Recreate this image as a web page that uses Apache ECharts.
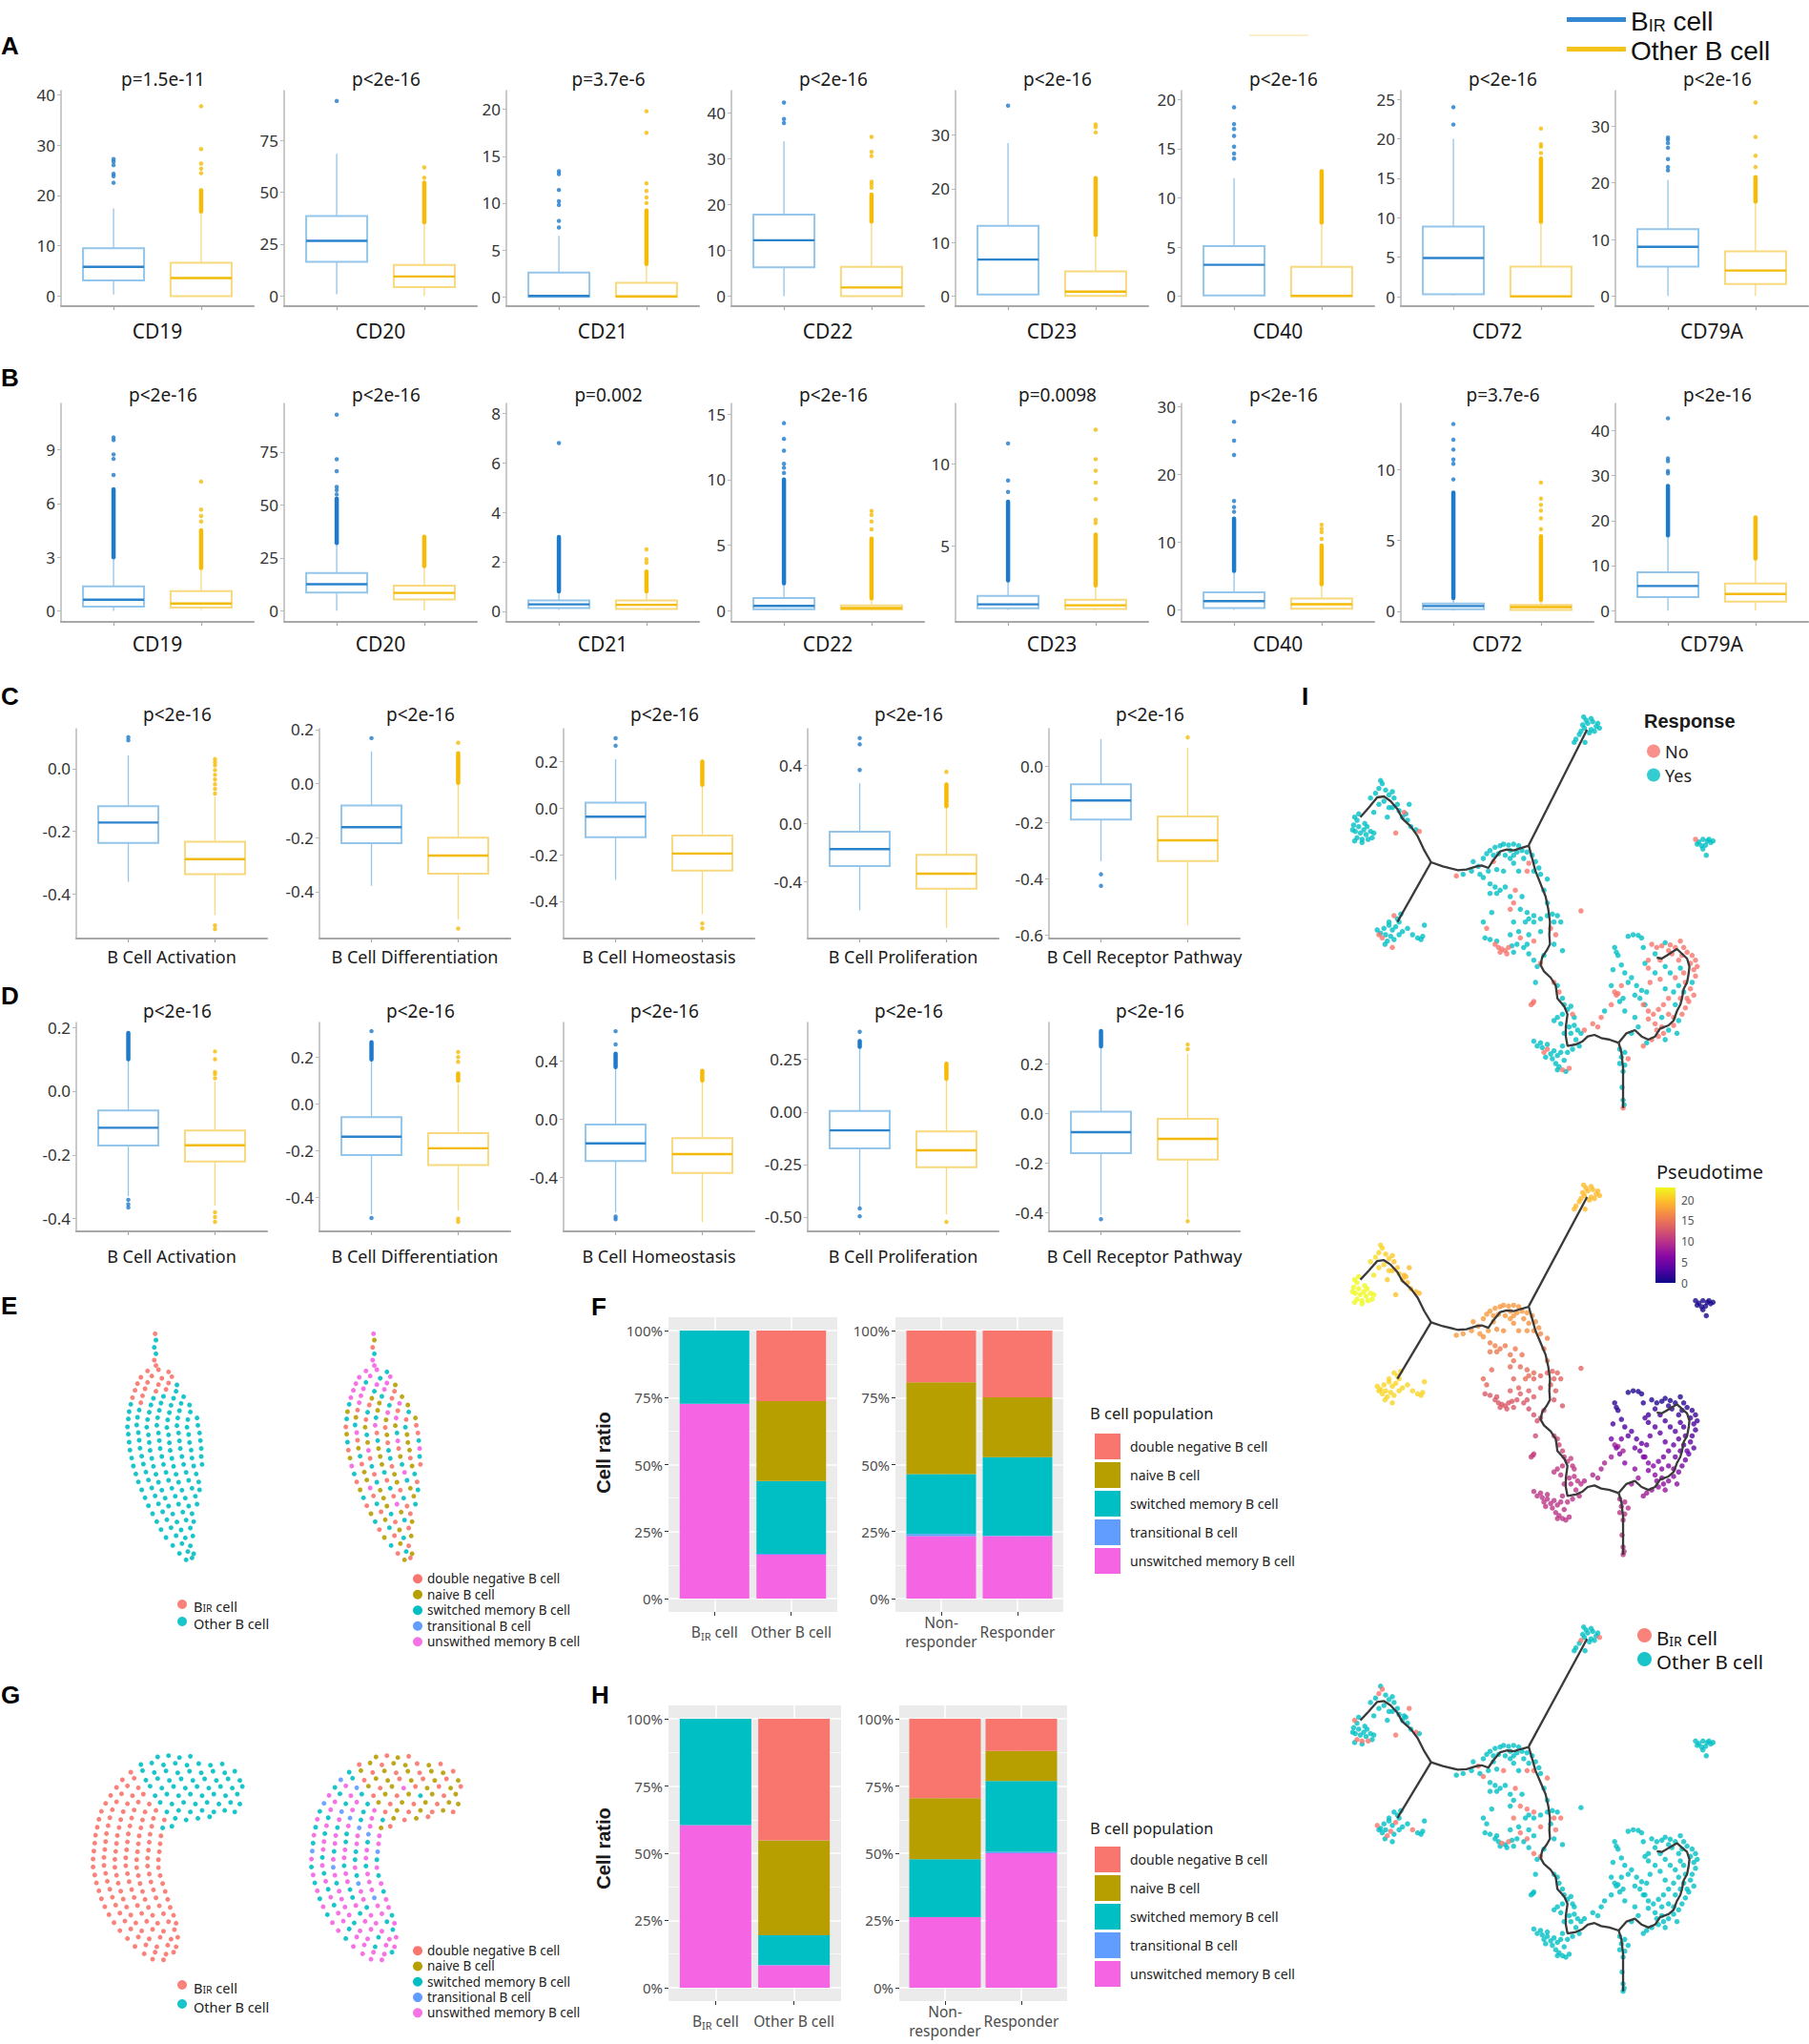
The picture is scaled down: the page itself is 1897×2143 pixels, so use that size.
<!DOCTYPE html>
<html><head><meta charset="utf-8">
<script src="https://cdn.jsdelivr.net/npm/echarts@6/dist/echarts.min.js"></script>
<style>html,body{margin:0;padding:0;background:#fff}#c{width:1897px;height:2143px}</style>
</head><body><div id="c"></div><script>
// ---------------- DATA ----------------
const GROUPS = ['BIR cell','Other B cell'];
const POP_E = ['double negative B cell','naive B cell','switched memory B cell','transitional B cell','unswithed memory B cell'];
const POP_F = ['double negative B cell','naive B cell','switched memory B cell','transitional B cell','unswitched memory B cell'];

// Panel A
const A_GENES = ['CD19','CD20','CD21','CD22','CD23','CD40','CD72','CD79A'];
const A_P = ['p=1.5e-11','p<2e-16','p=3.7e-6','p<2e-16','p<2e-16','p<2e-16','p<2e-16','p<2e-16'];
const A_LIM = [[-2,40.8],[-4.9,99],[-1,22],[-2.2,44.9],[-1.9,38.3],[-1,20.9],[-1.2,26.1],[-1.8,36.3]];
const A_TICKS = [[0,10,20,30,40],[0,25,50,75],[0,5,10,15,20],[0,10,20,30,40],[0,10,20,30],[0,5,10,15,20],[0,5,10,15,20,25],[0,10,20,30]];
const A_BIR = [[0.3,3.1,5.8,9.5,17.4],[0.8,16.5,26.6,38.5,68.5],[0,0,0.1,2.6,6.5],[0,6.3,12.2,17.8,33.8],[0.3,0.3,6.8,13.1,28.5],[0.1,0.1,3.2,5.1,12],[0.2,0.3,4.9,8.9,20],[0,5.2,8.7,11.8,20.5]];
const A_OTH = [[0,0,3.6,6.6,16.3],[0,4.3,9.4,15,35],[0,0,0.05,1.5,3.4],[0,0,1.9,6.4,16],[0,0,0.8,4.6,11.2],[0,0,0.05,3,7.4],[0,0,0.05,3.8,9.3],[0,2.1,4.5,7.9,16.5]];
const A_BIR_OUT = [[22.5,23.8,24.3,26,26.7,27.2],[94],[7.4,8.1,9.8,10.2,11.4,13.1,13.4],[37.8,38.7,42.3],[35.5],[14,14.5,15.2,16.3,17,17.5,19.2],[21.8,24],[22.2,22.8,24.2,26.2,27,27.6,28]];
const A_OTH_OUT = [[24.4,25.3,26.3,29.2,37.7],[57,62],[10,10.6,11.3,12.1,17.5,19.8],[23.7,24.4,25,30.6,31.5,34.8],[30.5,31.5,32],[],[18.2,19,19.3,21.3],[22.8,24.8,28.1,34.2]];
const A_BIR_RUN = [[],[],[],[],[],[],[],[]];
const A_OTH_RUN = [[[16.8,21]],[[35.5,54.6]],[[3.5,9.2]],[[16.3,22.2]],[[11.4,22]],[[7.5,12.7]],[[9.5,17.5]],[[16.7,21]]];

// Panel B
const B_P = ['p<2e-16','p<2e-16','p=0.002','p<2e-16','p=0.0098','p<2e-16','p=3.7e-6','p<2e-16'];
const B_LIM = [[-0.62,11.6],[-5.3,98],[-0.43,8.4],[-0.85,15.8],[0.37,13.7],[-1.75,30.5],[-0.74,14.65],[-2.5,46]];
const B_TICKS = [[0,3,6,9],[0,25,50,75],[0,2,4,6,8],[0,5,10,15],[5,10],[0,10,20,30],[0,5,10],[0,10,20,30,40]];
const B_BIR = [[0,0.23,0.62,1.37,3],[0,8.6,12.5,17.8,32],[0.05,0.13,0.28,0.44,0.77],[0.02,0.12,0.37,0.97,2.07],[1.1,1.2,1.44,1.96,2.9],[0,0.28,1.32,2.6,5.8],[0.05,0.15,0.38,0.56,0.94],[0,3,5.46,8.5,16.7]];
const B_OTH = [[0.05,0.18,0.41,1.1,2.36],[0,5.3,8.4,11.8,21.1],[0.02,0.09,0.26,0.44,0.8],[0.02,0.1,0.2,0.41,0.95],[1.05,1.15,1.38,1.73,2.6],[0,0.2,0.85,1.7,3.8],[0.03,0.1,0.3,0.45,0.8],[0,2,3.7,6,11.6]];
const B_BIR_OUT = [[7.6,8.5,8.75,9.55,9.7],[55,57,58.5,66,71.6,92.7],[6.8],[10.5,10.9,11.2,12.2,13.1,14.3],[8.3,9.0,11.26],[14.5,15.2,16.1,22.9,25,27.8],[9.3,10.4,10.7,11.4,12.1,13.2],[30.5,31,33.2,33.8,42.7]];
const B_OTH_OUT = [[5.0,5.3,5.66,7.23],[],[1.96,2.1,2.5],[6.2,6.8,7.3,7.6],[6.4,6.6,7.86,8.87,9.6,10.3,12.1],[10.5,11.5,12,12.6],[5.8,6.56,7.1,7.5,7.95,9.08],[]];
const B_BIR_RUN = [[[3,6.8]],[[32,53]],[[0.8,3.0]],[[2.1,10]],[[2.9,7.7]],[[5.8,13.5]],[[0.94,8.36]],[[16.7,27.7]]];
const B_OTH_RUN = [[[2.4,4.5]],[[21.1,35]],[[0.8,1.6]],[[0.95,5.5]],[[2.6,5.7]],[[3.8,9.5]],[[0.8,5.3]],[[11.6,20.7]]];

// Panel C
const C_TERMS = ['B Cell Activation','B Cell Differentiation','B Cell Homeostasis','B Cell Proliferation','B Cell Receptor Pathway'];
const C_P = ['p<2e-16','p<2e-16','p<2e-16','p<2e-16','p<2e-16'];
const C_LIM = [[-0.542,0.127],[-0.573,0.203],[-0.56,0.341],[-0.794,0.655],[-0.613,0.135]];
const C_TICKS = [[-0.4,-0.2,0],[-0.4,-0.2,0,0.2],[-0.4,-0.2,0,0.2],[-0.4,0,0.4],[-0.6,-0.4,-0.2,0]];
const C_BIR = [[-0.361,-0.237,-0.172,-0.12,0.042],[-0.378,-0.22,-0.161,-0.081,0.119],[-0.308,-0.125,-0.037,0.024,0.21],[-0.599,-0.294,-0.177,-0.057,0.279],[-0.337,-0.189,-0.121,-0.063,0.098]];
const C_OTH = [[-0.467,-0.337,-0.289,-0.233,-0.09],[-0.503,-0.333,-0.266,-0.2,0.0],[-0.455,-0.268,-0.195,-0.118,0.097],[-0.721,-0.45,-0.346,-0.216,0.117],[-0.566,-0.337,-0.263,-0.178,0.067]];
const C_BIR_OUT = [[0.09,0.1],[0.168],[0.268,0.3],[0.37,0.547,0.59],[-0.384,-0.425]];
const C_OTH_OUT = [[-0.08,-0.065,-0.05,-0.035,-0.02,-0.005,0.01,0.02,0.03,-0.5,-0.512],[0.151,-0.536],[-0.495,-0.516],[0.357],[0.104]];
const C_BIR_RUN = [[],[],[],[],[]];
const C_OTH_RUN = [[],[[0.003,0.112]],[[0.1,0.2]],[[0.12,0.27]],[]];

// Panel D
const D_P = ['p<2e-16','p<2e-16','p<2e-16','p<2e-16','p<2e-16'];
const D_LIM = [[-0.44,0.215],[-0.544,0.348],[-0.77,0.665],[-0.569,0.426],[-0.476,0.368]];
const D_TICKS = [[-0.4,-0.2,0,0.2],[-0.4,-0.2,0,0.2],[-0.4,0,0.4],[-0.5,-0.25,0,0.25],[-0.4,-0.2,0,0.2]];
const D_BIR = [[-0.33,-0.171,-0.115,-0.061,0.1],[-0.471,-0.218,-0.14,-0.056,0.19],[-0.64,-0.286,-0.166,-0.036,0.358],[-0.452,-0.174,-0.088,0.005,0.31],[-0.408,-0.16,-0.075,0.008,0.272]];
const D_OTH = [[-0.359,-0.221,-0.17,-0.124,0.03],[-0.455,-0.261,-0.189,-0.124,0.085],[-0.706,-0.369,-0.239,-0.13,0.267],[-0.488,-0.264,-0.183,-0.093,0.158],[-0.423,-0.186,-0.102,-0.021,0.241]];
const D_BIR_OUT = [[-0.341,-0.355,-0.365],[0.311,-0.487],[0.514,0.605,-0.668,-0.686],[0.382,-0.46,-0.497],[-0.427]];
const D_OTH_OUT = [[0.04,0.053,0.06,0.1,0.124,-0.38,-0.395,-0.41],[0.18,0.2,0.222,-0.49,-0.503],[],[-0.524],[0.26,0.279,-0.435]];
const D_BIR_RUN = [[[0.1,0.182]],[[0.19,0.263]],[[0.358,0.45]],[[0.31,0.337]],[[0.272,0.333]]];
const D_OTH_RUN = [[],[[0.1,0.13]],[[0.267,0.332]],[[0.158,0.23]],[]];

// Panels F / H : percentages per population [DN, naive, switched, transitional, unswitched]
const F_CATS1 = ['BIR cell','Other B cell'];
const F_CATS2 = ['Non-\nresponder','Responder'];
const F_BIR = [0,0,27.3,0,72.7];
const F_OTHER = [26.3,29.8,27.2,0.3,16.4];
const F_NONRESP = [19.3,34.3,22.3,0.8,23.3];
const F_RESP = [24.9,22.3,29.3,0.2,23.3];
const H_BIR = [0,0,39.5,0,60.5];
const H_OTHER = [45.2,35.3,11.0,0.2,8.3];
const H_NONRESP = [29.5,22.7,21.6,0.0,26.2];
const H_RESP = [11.9,11.2,26.4,0.5,50.0];
const PCT_TICKS = [0,25,50,75,100];

// Panel E cells: [umap1, umap2, group(0=BIR,1=Other), population]
const E_CELLS = [
[185,185,0,4],[186,205,1,1],[184,228,1,0],[186,248,1,2],[184,268,0,4],[186,285,0,4],
[176,302,0,4],[189,298,0,4],[201,305,0,2],
[168,322,0,4],[181,318,0,4],[193,325,0,2],[205,320,0,4],
[164,342,0,4],[176,338,0,2],[189,345,0,4],[201,340,0,4],[211,346,1,1],
[161,363,0,4],[173,358,0,4],[186,366,0,2],[198,360,0,4],[210,366,1,0],
[158,386,0,4],[170,380,0,4],[183,388,1,1],[195,382,1,2],[207,388,1,0],[219,383,1,1],
[156,407,1,2],[168,402,0,4],[180,409,1,0],[192,403,1,1],[204,410,1,2],[216,404,1,4],[226,409,1,1],
[154,430,1,1],[166,425,1,0],[178,432,1,2],[190,426,1,1],[202,433,1,4],[214,427,1,0],[227,431,1,2],
[153,453,1,2],[164,448,1,1],[176,455,1,0],[188,449,1,2],[200,456,1,1],[212,450,1,4],[224,455,1,0],[235,450,1,1],
[152,478,1,0],[163,472,1,2],[175,479,1,1],[187,473,1,4],[199,480,1,0],[211,474,1,1],[223,479,1,2],[236,473,1,0],
[153,501,1,1],[165,496,1,4],[177,503,1,2],[189,497,1,0],[201,503,1,1],[213,497,1,2],[225,502,1,1],[238,497,1,0],
[154,526,1,2],[166,520,1,0],[178,527,1,1],[190,521,1,2],[202,528,1,0],[214,522,1,4],[226,527,1,1],[239,521,1,2],
[155,551,1,0],[167,545,1,1],[179,552,1,4],[191,546,1,1],[203,552,1,2],[215,546,1,0],[228,551,1,1],[240,546,1,4],
[157,576,1,1],[169,570,1,2],[181,577,1,0],[193,571,1,1],[205,577,1,2],[217,571,1,1],[229,576,1,0],[240,571,1,2],
[159,601,1,4],[171,595,1,0],[183,602,1,2],[195,596,1,1],[207,602,1,0],[219,596,1,2],[231,601,1,1],[241,596,1,0],
[162,626,1,2],[174,620,1,1],[186,627,1,0],[198,621,1,2],[210,627,1,1],[222,621,1,4],[234,626,1,2],
[165,651,1,0],[177,645,1,1],[189,652,1,2],[201,646,1,0],[213,652,1,1],[225,646,1,2],[237,651,1,0],
[169,676,1,1],[181,670,1,4],[193,677,1,1],[205,671,1,2],[217,677,1,0],[229,671,1,1],[238,676,1,2],
[173,701,1,2],[185,695,1,0],[197,702,1,1],[209,696,1,0],[221,702,1,2],[233,696,1,1],
[177,726,1,0],[189,720,1,2],[201,727,1,1],[213,721,1,4],[225,727,1,0],[235,721,1,2],
[182,751,1,1],[194,745,1,0],[206,752,1,2],[218,746,1,1],[229,751,1,0],
[187,776,1,2],[199,770,1,1],[211,777,1,0],[222,771,1,2],[231,776,1,1],
[192,801,1,0],[204,795,1,2],[216,802,1,1],[227,796,1,0],
[198,826,1,1],[210,820,1,0],[221,827,1,2],[230,821,1,1],
[206,851,1,2],[217,845,1,1],[227,852,1,0],
[214,876,1,0],[224,870,1,2],[231,877,1,1],
[222,896,1,1],[229,890,1,0]
];

// Panel G cells: [umap1, umap2, group, population]
const G_CELLS = [
[188,282,1,1],[201,278,1,0],[214,284,1,1],[227,280,1,0],
[168,306,1,0],[181,301,1,1],[195,307,1,0],[209,302,1,1],[223,308,1,1],[237,303,1,0],[251,308,1,1],[265,304,1,0],
[156,330,0,2],[170,325,1,1],[184,331,1,0],[198,326,1,1],[212,332,1,0],[226,327,1,1],[240,332,1,0],[254,327,1,1],[268,332,1,1],[280,327,1,0],
[146,354,0,3],[160,349,0,2],[174,355,1,0],[188,350,1,1],[202,356,1,1],[216,351,1,0],[230,356,1,1],[244,351,1,0],[258,356,1,1],[272,351,1,0],[286,356,1,1],
[139,378,0,2],[152,373,0,4],[165,379,0,3],[179,374,1,1],[193,380,1,0],[207,375,1,1],[221,380,1,4],[235,375,1,0],[249,380,1,1],[263,375,1,0],[277,380,1,1],[289,375,1,0],
[132,403,0,4],[145,398,0,2],[158,404,0,4],[171,399,0,2],[185,404,1,0],[199,399,1,1],[213,404,1,0],[227,399,1,1],[241,404,1,2],[255,399,1,1],[269,404,1,0],[283,399,1,1],
[126,428,0,3],[139,423,0,4],[152,429,0,2],[165,424,0,4],[178,430,0,2],[191,425,1,1],[205,430,1,0],[219,425,1,1],[233,430,1,0],[247,425,1,1],[261,430,1,0],[275,425,1,1],[286,430,1,1],
[121,453,0,2],[134,448,0,4],[147,454,0,3],[160,449,0,4],[173,455,0,2],[186,450,0,4],[199,455,1,0],[213,450,1,1],[227,455,1,0],[241,450,1,1],[255,455,1,0],[268,450,1,1],[280,455,1,0],
[118,478,0,4],[131,473,0,2],[144,479,0,4],[157,474,0,3],[170,480,0,2],[183,475,0,4],[196,480,0,2],[209,475,1,1],[222,480,1,0],[236,475,1,1],[250,470,1,0],
[116,503,0,2],[129,498,0,4],[142,504,0,2],[155,499,0,4],[168,505,0,3],[181,500,0,4],[194,505,1,1],[205,500,1,0],
[114,528,0,4],[127,523,0,2],[140,529,0,4],[153,524,0,2],[166,530,0,4],[179,525,0,3],[192,530,0,4],
[113,553,0,2],[126,548,0,4],[139,554,0,4],[152,549,0,2],[165,555,0,4],[178,550,0,2],[191,555,0,4],
[112,578,0,3],[125,573,0,4],[138,579,0,2],[151,574,0,4],[164,580,0,2],[177,575,0,4],[190,580,0,3],
[111,603,0,4],[124,598,0,2],[137,604,0,4],[150,599,0,4],[163,605,0,2],[176,600,0,4],[189,605,0,2],
[111,628,0,2],[124,623,0,4],[137,629,0,3],[150,624,0,2],[163,630,0,4],[176,625,0,2],[189,630,0,4],
[113,653,0,4],[126,648,0,2],[139,654,0,4],[152,649,0,4],[165,655,0,2],[178,650,0,4],[191,655,0,2],
[115,678,0,2],[128,673,0,4],[141,679,0,2],[154,674,0,4],[167,680,0,3],[180,675,0,4],[194,680,0,4],
[118,703,0,4],[131,698,0,2],[144,704,0,4],[157,699,0,2],[170,705,0,4],[183,700,0,4],[197,705,0,2],
[121,728,0,2],[134,723,0,4],[147,729,0,4],[160,724,0,2],[173,730,0,4],[186,725,0,3],[200,730,0,4],
[125,753,0,4],[138,748,0,2],[151,754,0,4],[164,749,0,4],[177,755,0,2],[190,750,0,4],[203,755,0,4],
[130,778,0,2],[143,773,0,4],[156,779,0,4],[169,774,0,2],[182,780,0,4],[195,775,0,4],[207,780,0,2],
[136,803,0,4],[149,798,0,4],[162,804,0,2],[175,799,0,4],[188,805,0,4],[201,800,0,2],[210,805,0,4],
[143,828,0,4],[156,823,0,2],[169,829,0,4],[182,824,0,4],[195,830,0,4],[208,825,0,2],
[152,853,0,2],[165,848,0,4],[178,854,0,4],[191,849,0,2],[204,855,0,4],[212,849,0,4],
[161,878,0,4],[174,873,0,4],[187,879,0,2],[200,874,0,4],[210,879,0,4],
[172,901,0,4],[185,896,0,4],[198,902,0,4],[207,896,0,2],
[182,918,0,4],[195,920,0,4]
];

// Panel I cells: [component1, component2, response(0=No,1=Yes), pseudotime, group(1=BIR,0=Other)]
const I_CELLS = [
[920,175,1,19.5,0],[935,170,1,19.5,0],[945,185,1,19.5,0],[930,195,1,19.5,0],[910,190,1,19.5,0],[900,200,1,19.5,1],[925,205,1,19.5,0],[940,200,1,19.5,0],[950,175,1,19.5,0],[915,165,1,19.5,0],[905,180,1,19.5,0],[895,210,1,19.5,0],[885,225,1,19.5,0],[880,235,1,19.5,0],[912,235,1,19.5,0],[955,190,1,19.5,1],[930,160,1,19.5,0],[908,155,1,19.5,0],
[1240,540,0,0.5,0],[1250,548,1,0.5,0],[1262,540,1,0.5,0],[1275,545,1,0.5,0],[1285,550,1,0.5,0],[1270,558,1,0.5,0],[1258,560,1,0.5,0],[1280,540,1,0.5,0],[1245,555,1,0.5,0],[1272,590,1,0.5,0],[1262,570,1,0.5,0],[1292,545,1,0.5,0],
[228,470,1,23,1],[235,480,1,23,0],[225,495,1,23,0],[240,500,1,23,0],[230,515,1,23,0],[245,520,1,23,0],[255,510,1,23,0],[262,525,1,23,0],[235,535,1,23,1],[250,540,1,23,1],[268,540,1,23,1],[280,535,1,23,0],[275,515,1,23,0],[258,490,1,23,0],[240,460,1,23,0],[250,550,1,23,0],[228,545,1,23,0],[285,520,1,23,0],[265,500,1,23,0],[222,510,1,23,0],
[275,410,1,21.5,0],[290,395,1,21.5,0],[300,380,1,21,1],[310,365,1,21,1],[305,355,1,21,0],[320,385,1,20.5,0],[330,400,1,20.5,0],[340,390,1,20.5,0],[345,410,1,20,0],[355,430,1,20,0],[340,440,1,20,0],[360,450,1,20,0],[370,470,1,19.5,0],[380,460,1,19.5,0],[385,480,1,19.5,0],[395,500,1,19.5,0],[410,510,1,19.5,1],[420,515,0,19.5,0],[300,430,1,21,0],[285,455,1,22,0],[325,470,1,20.5,0],[350,520,0,20,1],[375,455,0,19.5,0],[390,430,1,19.5,1],[315,420,1,21,0],[330,440,1,20.5,0],
[295,825,1,21,1],[305,835,1,21,0],[315,820,1,21,0],[320,840,1,21,0],[330,810,1,21,0],[340,825,1,21,0],[350,815,1,21,1],[335,845,1,21,1],[345,855,1,21,0],[325,860,1,21,1],[340,880,0,21,0],[310,850,0,21,0],[300,840,0,21,0],[360,800,1,21,0],[370,830,1,21,0],[385,820,1,21,0],[400,840,1,21,1],[415,850,1,21,0],[425,855,1,21,0],[430,845,1,21,0],[435,810,1,21,0],[355,790,1,21,0],[345,780,0,21,0],[365,775,1,21,0],[330,800,1,21,0],[360,840,1,21,0],[318,870,1,21,0],
[530,655,0,17.5,0],[550,650,1,17.5,0],[575,640,1,17.5,0],[595,625,1,17.5,1],[610,600,1,17.5,0],[620,585,1,17.5,0],[630,575,1,17.5,0],[645,565,1,17.5,0],[660,560,1,17.5,0],[670,555,1,17.5,0],[685,558,1,17.5,0],[700,555,1,17.5,0],[715,560,1,17.5,0],[725,575,1,17.5,0],[740,580,1,17.5,0],[755,590,1,17,0],[765,610,1,17,0],[775,630,1,17,0],[760,640,1,17,1],[745,615,0,17,0],[700,590,1,17.5,0],[690,600,1,17.5,0],[675,590,1,17.5,0],[655,585,1,17.5,0],[640,610,0,17.5,0],[625,640,1,17.5,0],[610,660,1,17,1],[650,635,1,17,0],[700,615,1,17,0],[730,600,1,17,0],[740,640,0,17,1],[715,640,1,17,0],[670,640,1,17,1],[600,650,1,17.5,0],[580,610,1,17.5,0],[690,575,1,17.5,0],[710,580,1,17.5,0],[640,590,1,17.5,0],
[630,680,1,16,0],[645,690,1,16,0],[660,700,1,15.5,0],[675,690,1,15.5,0],[650,710,1,15.5,0],[630,710,1,15.5,0],[690,720,1,15,0],[700,740,0,15,0],[690,760,0,14.5,0],[720,760,1,14.5,1],[740,770,1,14.5,1],[760,780,1,14.5,1],[745,790,1,14.5,0],[735,800,1,14.5,0],[760,800,1,14,0],[780,790,1,14,0],[800,780,1,14,0],[815,775,1,14,0],[830,780,1,14,0],[840,800,1,14,1],[820,800,1,14,1],[810,820,0,14,0],[825,840,0,13.5,1],[800,740,1,15,0],[790,700,1,15.5,0],[800,665,1,16,1],[780,650,1,16.5,0],[705,700,0,15.5,1],[725,720,1,15,0],[610,800,1,14.5,0],[620,820,0,14,0],[635,770,1,14.5,0],[700,800,1,14,1],[715,830,1,14,0],[690,840,1,13.5,0],[720,850,0,13.5,1],[745,840,1,13.5,0],[760,860,0,13.5,0],[780,830,1,13.5,1],[900,765,0,14,0],
[615,850,1,13,0],[630,855,1,13,0],[645,870,0,13,0],[655,880,0,13,0],[665,885,0,13,1],[675,890,0,13,0],[685,880,0,13,1],[695,875,1,13,0],[660,895,0,13,0],[680,900,0,13,0],[700,895,1,13,0],[710,870,1,13,0],[730,880,1,13,0],[740,870,1,13,1],[745,900,1,12.5,0],[760,920,1,12.5,1],[770,940,1,12.5,0],[780,930,0,12.5,1],[790,905,1,12.5,0],[650,860,1,13,0],[820,870,1,13,0],[845,890,1,13,0],[765,990,1,12,0],[757,1055,0,11,0],[760,1050,0,11,0],[752,1060,0,11,0],
[820,990,0,12,0],[830,1000,1,12,0],[835,1020,0,11.5,0],[845,1040,1,11.5,0],[850,1060,1,11,0],[860,1075,1,11,0],[870,1065,1,11,0],[875,1090,0,10.5,0],[845,1090,1,10.5,0],[830,1100,1,10.5,0],[820,1110,1,10.5,0],[840,1120,1,10.5,0],[865,1130,1,10,0],[880,1125,1,10,0],[890,1140,1,10,0],[900,1150,1,10,0],[910,1140,0,9.5,0],[870,1150,1,10,0],[885,1170,1,10,0],[760,1175,1,10,0],[770,1190,1,10,0],[785,1195,1,10,0],[790,1210,0,10,0],[800,1200,0,10,0],[810,1215,1,10,0],[820,1205,1,10,0],[830,1220,1,10,0],[840,1210,1,10,0],[815,1230,1,10,0],[825,1245,1,10,0],[835,1255,1,10,0],[845,1265,0,10,0],[855,1270,1,10,0],[865,1260,0,10,0],[850,1235,1,10,0],[800,1185,1,10,0],[780,1180,1,10,0],[845,1190,1,10,0],[860,1210,1,10,0],[875,1200,1,10,0],[895,1190,1,10,0],[850,1150,1,10,0],[880,1100,1,10.5,0],[935,1120,0,9,0],[960,1100,0,9,0],[990,1060,0,8.5,0],[1000,1020,0,8.5,0],[1010,1025,0,8.5,0],[1025,1040,1,8.5,0],[970,1080,1,9,0],[950,1130,0,9,0],[795,1225,1,10,0],[830,1265,1,10,0],
[1015,1200,1,9.5,0],[1020,1225,1,9.5,0],[1030,1250,1,10,0],[1015,1245,1,10,0],[1040,1230,0,9.5,0],[1025,1270,1,10,0],[1022,1320,1,10,0],[1025,1360,1,10,0],[1025,1385,0,10,0],[1028,1375,1,10,0],[1030,1210,1,9.5,0],
[1040,845,1,1,0],[1055,840,1,1,0],[1070,842,1,1,0],[1080,850,1,1,0],[1000,880,1,1.5,0],[1005,895,1,1.5,0],[1010,905,1,1.5,0],[995,950,1,3,0],[1020,935,1,2.5,0],[1030,960,1,3,0],[1050,975,1,3.5,0],[1040,990,1,4,0],[990,1000,1,5,0],[1065,1000,1,4,0],[1080,1015,1,4.5,0],[1075,1040,1,5,0],[1090,1060,1,5.5,0],[1060,1030,1,5,0],[1020,1000,0,5.5,0],[1005,1030,0,6,0],[1015,1050,1,6,0],[1030,1080,1,6.5,0],
[1110,870,0,1,0],[1125,880,0,1,0],[1140,875,0,1,0],[1150,865,1,1,0],[1165,872,0,1,0],[1180,880,0,1,0],[1195,860,0,1,0],[1205,880,0,1.5,0],[1215,895,0,1.5,0],[1230,905,0,2,0],[1240,920,0,2,0],[1225,930,0,2.5,0],[1235,950,0,3,0],[1240,970,0,3,0],[1230,990,1,3.5,0],[1225,1010,0,4,0],[1235,1030,0,4,0],[1220,1050,0,4.5,0],[1210,1070,0,5,0],[1200,1090,0,5.5,0],[1190,1110,1,6,0],[1175,1125,0,6.5,0],[1160,1140,1,7,0],[1145,1150,0,7,0],[1130,1160,0,7.5,0],[1110,1170,0,7.5,0],[1095,1180,1,8,0],[1085,1190,0,8,0],[1120,900,1,2,0],[1135,920,0,2.5,0],[1150,940,1,3,0],[1165,960,1,3,0],[1180,975,0,3.5,0],[1195,945,1,3,0],[1205,960,0,3,0],[1210,990,0,3.5,0],[1190,1000,1,4,0],[1175,1020,1,4.5,0],[1160,1040,0,5,0],[1145,1060,0,5.5,0],[1130,1075,0,6,0],[1115,1090,0,6.5,0],[1100,1105,0,6.5,0],[1120,1120,0,7,0],[1140,1100,1,6.5,0],[1160,1090,0,6,0],[1180,1060,1,5,0],[1195,1040,0,4.5,0],[1205,1020,1,4,0],[1150,1010,1,4.5,0],[1135,980,0,4,0],[1120,960,1,3.5,0],[1100,945,0,3,0],[1090,930,1,3,0],[1105,990,0,4.5,0],[1095,1020,1,5,0],[1085,1060,0,6,0],[1100,1080,0,6.5,0],[1140,1130,0,7,0],[1060,1100,1,7,0],[1070,1130,1,7.5,0],[1050,1150,1,8,0],[1150,1170,1,7.5,0],[1125,1140,0,7,0],[1185,1150,1,7,0],[1190,920,0,2,0],[1170,900,0,1.5,0],[1100,920,0,2.5,0],[1215,1040,0,4.5,0],[1245,940,0,2.5,0],[1160,890,0,1.5,0],[1200,905,0,1.5,0],[1085,880,1,1.5,0],[1175,1100,0,6,0]
];
// trajectory (principal graph) segments
const TRAJ_TR = [[918,195],[745,558]];
const TRAJ_UL = [[245,470],[270,440],[295,408],[315,405],[335,420],[355,445],[370,475],[395,500],[415,530],[435,575],[455,612]];
const TRAJ_LL = [[455,612],[355,800]];
const TRAJ_MAIN = [[455,612],[490,625],[535,637],[560,635],[590,625],[605,622],[625,630],[640,605],[660,578],[680,572],[700,575],[720,568],[745,560],[755,600],[765,640],[780,680],[795,720],[803,760],[808,800],[806,840],[808,870],[798,890],[785,910],[780,935],[790,955],[810,975],[825,1000],[830,1040],[850,1065],[860,1090],[855,1130],[855,1160],[860,1190],[885,1185],[905,1175],[920,1160],[940,1155],[960,1165],[985,1170],[1012,1180]];
const TRAJ_BOT = [[1012,1180],[1020,1210],[1025,1260],[1025,1385]];
const TRAJ_LOOP = [[1012,1180],[1035,1150],[1060,1140],[1080,1160],[1100,1170],[1120,1160],[1135,1135],[1160,1125],[1175,1110],[1185,1080],[1195,1060],[1200,1040],[1205,1010],[1215,990],[1220,960],[1222,940],[1215,915],[1200,900],[1185,885],[1170,895],[1155,905],[1140,915],[1125,912]];
const PT_TICKS = [0,5,10,15,20];
const PT_MAX = 23;

// ---------------- STYLE ----------------
const FONT = "'Noto Sans','Open Sans',sans-serif";
const BOLDFONT = "'Liberation Sans',Arial,sans-serif";
const BLUE_BOX='#94c5ea', BLUE_MED='#2b83cc', BLUE_PT='#1e7bcc';
const YEL_BOX='#f8d97e', YEL_MED='#f3ba08', YEL_PT='#f5bb06';
const RED='#F8766D', TEAL='#00BFC4';
const POP_COL=['#F8766D','#B79F00','#00BFC4','#619CFF','#F564E3'];
const PLASMA=['#0d0887','#5302a3','#8b0aa5','#b83289','#db5c68','#f48849','#febd2a','#f0f921'];

const grid=[], xAxis=[], yAxis=[], series=[], graphic=[], legend=[];
function txt(x,y,text,size,o){o=o||{};graphic.push({type:'text',x:x,y:y,rotation:o.rot||0,silent:true,z:50,style:{text:text,fontSize:size,fontFamily:o.font||FONT,fontWeight:o.bold?'bold':'normal',fill:o.fill||'#1a1a1a',textAlign:o.align||'center',textVerticalAlign:'middle'}});}
function fmt(v,d){return d===0?String(v):Number(v).toFixed(d);}
function birRich(size,small,color,font,lh){font=font||FONT;const b={fontSize:size,fontFamily:font,color:color,verticalAlign:'bottom'},s={fontSize:small,fontFamily:font,color:color,verticalAlign:'bottom'};if(lh){b.lineHeight=lh;s.lineHeight=lh;}return {formatter:function(n){return n==='BIR cell'?'{b|B}{s|IR}{b| cell}':'{b|'+n+'}';},rich:{b:b,s:s}};}

function boxRenderer(bw){
  return function(params, api){
    const x=api.value(0);
    const P=function(k){return api.coord([x,api.value(k)]);};
    const lo=P(1),q1=P(2),md=P(3),q3=P(4),hi=P(5);
    const light=params.dataIndex===0?BLUE_BOX:YEL_BOX, dark=params.dataIndex===0?BLUE_MED:YEL_MED;
    const cx=md[0];
    return {type:'group',children:[
      {type:'line',shape:{x1:cx,y1:lo[1],x2:cx,y2:q1[1]},style:{stroke:light,lineWidth:1.3}},
      {type:'line',shape:{x1:cx,y1:q3[1],x2:cx,y2:hi[1]},style:{stroke:light,lineWidth:1.3}},
      {type:'rect',shape:{x:cx-bw/2,y:q3[1],width:bw,height:Math.max(q1[1]-q3[1],1)},style:{fill:'#fff',stroke:light,lineWidth:2}},
      {type:'line',shape:{x1:cx-bw/2,y1:md[1],x2:cx+bw/2,y2:md[1]},style:{stroke:dark,lineWidth:2.4}}
    ]};
  };
}
function addBoxRow(L,names,pl,lim,ticks,dec,bir,oth,bOut,oOut,bRun,oRun){
  names.forEach(function(nm,k){
    const i=grid.length,left=L.lefts[k];
    grid.push({left:left,top:L.top,width:L.w,height:L.h});
    xAxis.push({gridIndex:i,type:'value',min:0.4,max:2.6,axisLine:{onZero:false,lineStyle:{color:'#a8a8a8',width:2.2}},axisTick:{show:true,customValues:[1,2],length:4,lineStyle:{color:'#a8a8a8',width:1.2}},axisLabel:{show:false},splitLine:{show:false}});
    yAxis.push({gridIndex:i,type:'value',min:lim[k][0],max:lim[k][1],axisLine:{show:true,onZero:false,lineStyle:{color:'#b8b8b8',width:1.5}},axisTick:{show:true,customValues:ticks[k],length:4,lineStyle:{color:'#b8b8b8'}},axisLabel:{customValues:ticks[k],formatter:function(v){return fmt(v,dec[k]);},fontSize:17,color:'#333',margin:6,fontFamily:FONT},splitLine:{show:false}});
    series.push({type:'custom',xAxisIndex:i,yAxisIndex:i,renderItem:boxRenderer(L.bw),encode:{x:0,y:[1,2,3,4,5]},data:[[1].concat(bir[k]),[2].concat(oth[k])],silent:true,z:2});
    [[bRun[k],1,BLUE_PT],[oRun[k],2,YEL_PT]].forEach(function(r){(r[0]||[]).forEach(function(seg){
      series.push({type:'line',xAxisIndex:i,yAxisIndex:i,data:[[r[1],seg[0]],[r[1],seg[1]]],symbol:'none',silent:true,z:3,lineStyle:{color:r[2],width:4.5,cap:'round'}});
    });});
    series.push({type:'scatter',xAxisIndex:i,yAxisIndex:i,symbolSize:4.5,silent:true,z:4,itemStyle:{color:BLUE_PT},data:bOut[k].map(function(v){return [1,v];})});
    series.push({type:'scatter',xAxisIndex:i,yAxisIndex:i,symbolSize:4.5,silent:true,z:4,itemStyle:{color:YEL_PT},data:oOut[k].map(function(v){return [2,v];})});
    txt(left+L.w/2+6,L.pY,pl[k],19);
    txt(left+L.w/2,L.nY,nm,L.nS);
  });
}
const LA={lefts:[64,298,531,767,1002,1239,1469,1694],w:202,top:95,h:226,pY:83,nY:347,nS:21,bw:64};
const LB={lefts:LA.lefts,w:202,top:423,h:229,pY:414,nY:675,nS:21,bw:64};
const LC={lefts:[80,335,591,847,1100],w:200,top:764,h:220,pY:749,nY:1003,nS:18,bw:63};
const LD={lefts:LC.lefts,w:200,top:1072,h:219,pY:1060,nY:1317,nS:18,bw:63};
addBoxRow(LA,A_GENES,A_P,A_LIM,A_TICKS,[0,0,0,0,0,0,0,0],A_BIR,A_OTH,A_BIR_OUT,A_OTH_OUT,A_BIR_RUN,A_OTH_RUN);
addBoxRow(LB,A_GENES,B_P,B_LIM,B_TICKS,[0,0,0,0,0,0,0,0],B_BIR,B_OTH,B_BIR_OUT,B_OTH_OUT,B_BIR_RUN,B_OTH_RUN);
addBoxRow(LC,C_TERMS,C_P,C_LIM,C_TICKS,[1,1,1,1,1],C_BIR,C_OTH,C_BIR_OUT,C_OTH_OUT,C_BIR_RUN,C_OTH_RUN);
addBoxRow(LD,C_TERMS,D_P,D_LIM,D_TICKS,[1,1,1,2,1],D_BIR,D_OTH,D_BIR_OUT,D_OTH_OUT,D_BIR_RUN,D_OTH_RUN);

// ---- stacked bars (F, H)
const LABEL_RICH={n:{fontSize:15.5,color:'#4d4d4d',fontFamily:FONT,lineHeight:20},s:{fontSize:11,color:'#4d4d4d',fontFamily:FONT,lineHeight:20,verticalAlign:'bottom'}};
function catLabel(c){if(c==='BIR cell')return '{n|B}{s|IR}{n| cell}';return c.split('\n').map(function(s){return '{n|'+s+'}';}).join('\n');}
function addBars(L,top,w,h,cats,vals,bw){
  // panel (grey background, percentage axis, horizontal grid lines)
  const i=grid.length;
  grid.push({left:L,top:top,width:w,height:h,show:true,backgroundColor:'#EBEBEB',borderWidth:0});
  xAxis.push({gridIndex:i,type:'value',min:0,max:1,show:false});
  yAxis.push({gridIndex:i,type:'value',min:-5,max:105,axisLine:{show:false,onZero:false},axisTick:{show:true,customValues:PCT_TICKS,length:4,lineStyle:{color:'#333'}},axisLabel:{customValues:PCT_TICKS,formatter:function(v){return v+'%';},fontSize:15,color:'#4d4d4d',margin:6,fontFamily:FONT},splitLine:{show:false}});
  const ml=[];
  PCT_TICKS.forEach(function(t){ml.push({yAxis:t});});
  [12.5,37.5,62.5,87.5].forEach(function(t){ml.push({yAxis:t,lineStyle:{width:0.7}});});
  series.push({type:'line',xAxisIndex:i,yAxisIndex:i,data:[[0,-5]],symbolSize:0,showSymbol:false,lineStyle:{width:0},silent:true,z:1,
    markLine:{z:1,silent:true,symbol:['none','none'],label:{show:false},lineStyle:{color:'#ffffff',type:'solid',width:1.5},data:ml}});
  // bar layer (inset so that the categories sit where the discrete scale puts them)
  const j=grid.length;
  grid.push({left:L+w/22,top:top,width:w/1.1,height:h});
  xAxis.push({gridIndex:j,type:'category',data:cats,axisLine:{show:false,onZero:false},axisTick:{show:true,alignWithLabel:true,interval:0,length:4,lineStyle:{color:'#333'}},axisLabel:{interval:0,hideOverlap:false,formatter:catLabel,margin:21,verticalAlign:'middle',rich:LABEL_RICH},splitLine:{show:false}});
  yAxis.push({gridIndex:j,type:'value',min:-5,max:105,show:false});
  series.push({type:'line',xAxisIndex:j,yAxisIndex:j,data:[-5],symbolSize:0,showSymbol:false,lineStyle:{width:0},silent:true,z:1,
    markLine:{z:1,silent:true,symbol:['none','none'],label:{show:false},lineStyle:{color:'#ffffff',type:'solid',width:1.5},data:[{xAxis:cats[0]},{xAxis:cats[1]}]}});
  [4,3,2,1,0].forEach(function(p){
    series.push({type:'bar',name:POP_F[p],stack:'st'+j,xAxisIndex:j,yAxisIndex:j,barWidth:bw,silent:true,z:3,itemStyle:{color:POP_COL[p]},data:vals.map(function(v){return v[p];})});
  });
}
addBars(701,1381,177,309,F_CATS1,[F_BIR,F_OTHER],73);
addBars(939,1381,176,309,F_CATS2,[F_NONRESP,F_RESP],73);
addBars(701,1788,181,310,F_CATS1,[H_BIR,H_OTHER],75);
addBars(943,1788,176,310,F_CATS2,[H_NONRESP,H_RESP],75);
txt(633,1523,'Cell ratio',20,{bold:true,rot:Math.PI/2,font:BOLDFONT});
txt(633,1938,'Cell ratio',20,{bold:true,rot:Math.PI/2,font:BOLDFONT});
txt(1143,1481,'B cell population',16.5,{align:'left'});
txt(1143,1916,'B cell population',16.5,{align:'left'});
[1498,1931].forEach(function(t){legend.push({left:1143,top:t,orient:'vertical',icon:'rect',itemWidth:27,itemHeight:27,itemGap:3,selectedMode:false,data:POP_F,textStyle:{fontSize:14,color:'#222',fontFamily:FONT,padding:[0,0,0,5]}});});

// ---- UMAP scatters (E, G)
function addScatter(left,top,w,h,xr,yr,cells,mode,size){
  const i=grid.length;
  grid.push({left:left,top:top,width:w,height:h});
  xAxis.push({gridIndex:i,type:'value',min:xr[0],max:xr[1],show:false});
  yAxis.push({gridIndex:i,type:'value',min:yr[0],max:yr[1],inverse:true,show:false});
  if(mode==='grp'){
    [[1,'Other B cell',TEAL],[0,'BIR cell',RED]].forEach(function(g){
      series.push({type:'scatter',name:g[1],xAxisIndex:i,yAxisIndex:i,symbolSize:size,silent:true,itemStyle:{color:g[2],opacity:0.9},data:cells.filter(function(c){return c[2]===g[0];}).map(function(c){return [c[0],c[1]];})});
    });
  } else {
    [0,1,2,3,4].forEach(function(p){
      series.push({type:'scatter',name:POP_E[p],xAxisIndex:i,yAxisIndex:i,symbolSize:size,silent:true,itemStyle:{color:POP_COL[p],opacity:0.9},data:cells.filter(function(c){return c[3]===p;}).map(function(c){return [c[0],c[1]];})});
    });
  }
}
addScatter(123.1,1393.3,105.5,246.7,[140,260],[170,910],E_CELLS,'grp',5);
addScatter(352.1,1393.3,105.5,246.7,[140,260],[170,910],E_CELLS,'pop',5);
addScatter(87.9,1834.7,175.9,226.7,[100,300],[260,940],G_CELLS,'grp',5);
addScatter(316.9,1834.7,175.9,226.7,[100,300],[260,940],G_CELLS,'pop',5);
const grpLegendData=[{name:'BIR cell',icon:'circle',itemStyle:{color:RED}},{name:'Other B cell',icon:'circle',itemStyle:{color:TEAL}}];
const popLegendData=POP_E.map(function(n,k){return {name:n,icon:'circle',itemStyle:{color:POP_COL[k]}};});
[[1668,18],[2066,20]].forEach(function(a){const r=birRich(14.5,10.5,'#222');legend.push({left:181,top:a[0],orient:'vertical',itemWidth:10,itemHeight:10,itemGap:0,selectedMode:false,data:grpLegendData,formatter:r.formatter,textStyle:{fontSize:14.5,lineHeight:a[1],rich:r.rich,padding:[0,0,0,2]}});});
[[1642,16.5],[2032,16.3]].forEach(function(a){legend.push({left:428,top:a[0],orient:'vertical',itemWidth:10,itemHeight:10,itemGap:0,selectedMode:false,data:popLegendData,textStyle:{fontSize:13.5,lineHeight:a[1],color:'#222',fontFamily:FONT}});});

// ---- trajectory panels (I)
const TRAJS=[TRAJ_TR,TRAJ_UL,TRAJ_LL,TRAJ_MAIN,TRAJ_BOT,TRAJ_LOOP];
let ptSeriesIndex=-1;
function addTraj(top,height,mode){
  const i=grid.length;
  grid.push({left:1340,top:top,width:551,height:height});
  xAxis.push({gridIndex:i,type:'value',min:0,max:1560,show:false});
  yAxis.push({gridIndex:i,type:'value',min:0,max:1440,inverse:true,show:false});
  const pick=function(f){return I_CELLS.filter(f).map(function(c){return [c[0],c[1],c[2],c[3],c[4]];});};
  const S=5.5;
  if(mode==='resp'){
    series.push({type:'scatter',name:'Yes',xAxisIndex:i,yAxisIndex:i,symbolSize:S,silent:true,itemStyle:{color:TEAL},data:pick(function(c){return c[2]===1;})});
    series.push({type:'scatter',name:'No',xAxisIndex:i,yAxisIndex:i,symbolSize:S,silent:true,itemStyle:{color:RED},data:pick(function(c){return c[2]===0;})});
  } else if(mode==='pt'){
    ptSeriesIndex=series.length;
    series.push({type:'scatter',name:'Pseudotime',xAxisIndex:i,yAxisIndex:i,symbolSize:S,silent:true,data:pick(function(){return true;})});
  } else {
    series.push({type:'scatter',name:'Other B cell',xAxisIndex:i,yAxisIndex:i,symbolSize:S,silent:true,itemStyle:{color:TEAL},data:pick(function(c){return c[4]===0;})});
    series.push({type:'scatter',name:'BIR cell',xAxisIndex:i,yAxisIndex:i,symbolSize:S,silent:true,itemStyle:{color:RED},data:pick(function(c){return c[4]===1;})});
  }
  TRAJS.forEach(function(t){series.push({type:'line',xAxisIndex:i,yAxisIndex:i,data:t,symbol:'none',silent:true,z:5,lineStyle:{color:'#3a3a3a',width:2.3}});});
}
addTraj(700,480,'resp');
addTraj(1193.6,453.6,'pt');
addTraj(1657.7,447,'bir');
txt(1724,756,'Response',20,{bold:true,align:'left',font:BOLDFONT});
legend.push({left:1722,top:770,orient:'vertical',itemWidth:14,itemHeight:14,itemGap:0,selectedMode:false,data:[{name:'No',icon:'circle'},{name:'Yes',icon:'circle'}],textStyle:{fontSize:18,lineHeight:25,color:'#222',fontFamily:FONT}});
(function(){const r=birRich(20.5,14,'#111');legend.push({left:1712,top:1697,orient:'vertical',itemWidth:15,itemHeight:15,itemGap:0,selectedMode:false,data:grpLegendData,formatter:r.formatter,textStyle:{fontSize:20.5,lineHeight:25,rich:r.rich}});})();
// pseudotime colour bar
(function(){
  const i=grid.length;
  grid.push({left:1736,top:1245,width:21,height:100});
  xAxis.push({gridIndex:i,type:'category',data:['Pseudotime'],show:false});
  yAxis.push({gridIndex:i,type:'value',min:0,max:PT_MAX,position:'right',axisLine:{show:false},axisTick:{show:false},splitLine:{show:false},axisLabel:{customValues:PT_TICKS,fontSize:12,color:'#555',margin:6,fontFamily:FONT}});
  series.push({type:'bar',xAxisIndex:i,yAxisIndex:i,barWidth:21,silent:true,data:[PT_MAX],itemStyle:{color:new echarts.graphic.LinearGradient(0,1,0,0,PLASMA.map(function(c,k){return {offset:k/(PLASMA.length-1),color:c};}))}});
})();
txt(1737,1228,'Pseudotime',20,{align:'left'});

// ---- top legend (A)
(function(){const LF="'Liberation Sans',Arial,sans-serif";const r=birRich(28,18,'#111',LF,31);
  legend.push({left:1638,top:0,orient:'vertical',itemWidth:62,itemHeight:5,itemGap:0,selectedMode:false,data:[{name:'BIR cell',icon:'rect',itemStyle:{color:'#1e7bcc'}},{name:'Other B cell',icon:'rect',itemStyle:{color:'#f4bb00'}}],formatter:r.formatter,textStyle:{fontSize:28,lineHeight:31,fontFamily:LF,rich:r.rich}});})();
graphic.push({type:'line',silent:true,shape:{x1:1310,y1:37,x2:1372,y2:37},style:{stroke:'#fbeecb',lineWidth:2}});

// panel letters
[['A',1,48],['B',1,396],['C',1,730],['D',1,1044],['E',1,1369],['F',620,1370],['G',1,1777],['H',620,1777],['I',1365,730]].forEach(function(l){txt(l[1],l[2],l[0],26,{bold:true,align:'left',fill:'#000',font:BOLDFONT});});

const chart=echarts.init(document.getElementById('c'),null,{renderer:'svg'});
chart.setOption({
  animation:false,
  backgroundColor:'#ffffff',
  textStyle:{fontFamily:FONT},
  grid:grid, xAxis:xAxis, yAxis:yAxis, series:series, legend:legend,
  visualMap:[{type:'continuous',show:false,min:0,max:PT_MAX,dimension:3,seriesIndex:[ptSeriesIndex],inRange:{color:PLASMA}}],
  graphic:graphic
});
</script></body></html>
